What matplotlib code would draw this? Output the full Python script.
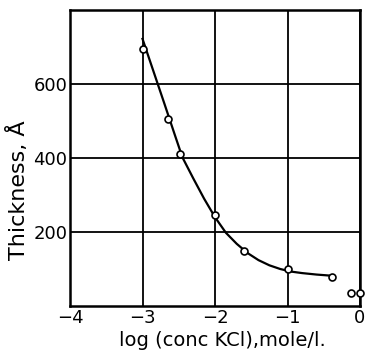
import matplotlib
matplotlib.use('Agg')
import matplotlib.pyplot as plt

# measured points
log_conc = [-3.0, -2.65, -2.48, -2.0, -1.6, -1.0, -0.39, -0.13, 0.0]
thickness = [695, 505, 410, 246, 150, 101, 78, 34, 34]

# hand drawn curve through the points
curve_x = [-3.0, -2.85, -2.7, -2.55, -2.45, -2.3, -2.15, -2.0, -1.85, -1.7,
           -1.55, -1.4, -1.25, -1.1, -0.95, -0.8, -0.6, -0.4]
curve_y = [722, 635, 548, 460, 402, 345, 290, 240, 198, 168,
           143, 124, 110, 100, 93, 89, 85, 82]

xticks = [-4, -3, -2, -1, 0]
xticklabels = ['\u22124', '\u22123', '\u22122', '\u22121', '0']
yticks = [200, 400, 600]

plt.rcParams['font.family'] = ['DejaVu Sans']

fig = plt.figure(figsize=(3.65, 3.5), dpi=100)
ax = fig.add_axes([0.1918, 0.1257, 0.7945, 0.8457])

ax.plot(curve_x, curve_y, color='black', lw=1.6)
ax.plot(log_conc, thickness, 'o', mfc='white', mec='black', ms=5, mew=1.2,
        clip_on=False, zorder=3)

ax.set_xlim(-4, 0)
ax.set_ylim(0, 800)
ax.set_xticks(xticks)
ax.set_xticklabels(xticklabels)
ax.set_yticks(yticks)
ax.grid(True, color='black', lw=1.3)
ax.tick_params(length=0, labelsize=13, pad=2)
for s in ax.spines.values():
    s.set_linewidth(1.8)

ax.set_xlabel('log (conc KCl),mole/l.', fontsize=14)
ax.xaxis.set_label_coords(0.524, -0.085)
ax.set_ylabel('Thickness, \u00c5', fontsize=16)
ax.yaxis.set_label_coords(-0.14, 0.39)

fig.savefig('out.png', dpi=100)
